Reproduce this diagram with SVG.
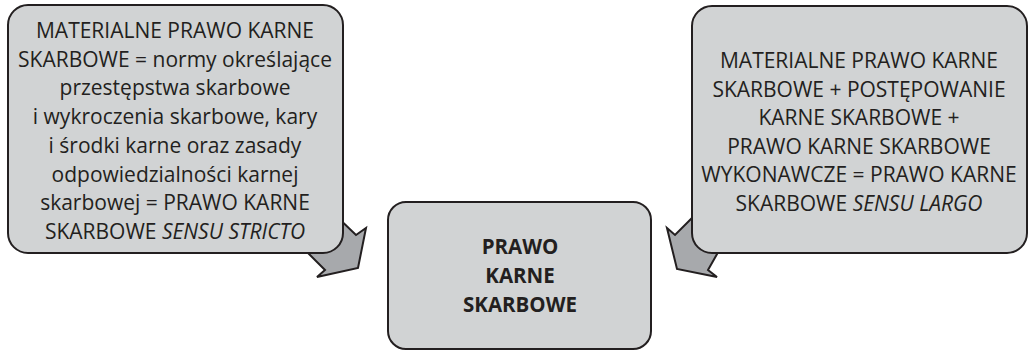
<svg xmlns="http://www.w3.org/2000/svg" width="1029" height="350" viewBox="0 0 1029 350">
<style>
.box{fill:#d1d3d4;stroke:#231f20;stroke-width:2}
.arr{fill:#a7a9ac;stroke:#231f20;stroke-width:2;stroke-linejoin:miter}
text{font-family:"Open Sans","Liberation Sans",sans-serif;font-size:21px;fill:#231f20;text-anchor:middle}
.b{font-weight:bold;font-size:20.5px}
.i{font-style:italic}
</style>
<rect width="1029" height="350" fill="#ffffff"/>
<g id="connectors">
<polygon class="arr" points="330,210 356,235 366,228 358,268 317,277 325,270 300,245"/>
<polygon class="arr" points="667,228 675,235 705,205 725,240 708,270 717,277 677,269"/>
</g>
<g id="left">
<rect class="box" x="8" y="5" width="335" height="248" rx="20"/>
<text x="175" y="38">MATERIALNE PRAWO KARNE</text>
<text x="175" y="66.7">SKARBOWE = normy określające</text>
<text x="175" y="95.4">przestępstwa skarbowe</text>
<text x="175" y="124">i wykroczenia skarbowe, kary</text>
<text x="175" y="152.8">i środki karne oraz zasady</text>
<text x="175" y="181.5">odpowiedzialności karnej</text>
<text x="175" y="210">skarbowej = PRAWO KARNE</text>
<text x="175" y="239">SKARBOWE <tspan class="i">SENSU STRICTO</tspan></text>
</g>
<g id="right">
<rect class="box" x="692" y="6" width="335" height="247" rx="20"/>
<text x="859" y="68.2">MATERIALNE PRAWO KARNE</text>
<text x="859" y="96.7">SKARBOWE + POSTĘPOWANIE</text>
<text x="859" y="125.2">KARNE SKARBOWE +</text>
<text x="859" y="153.7">PRAWO KARNE SKARBOWE</text>
<text x="859" y="182.2">WYKONAWCZE = PRAWO KARNE</text>
<text x="859" y="210.7">SKARBOWE <tspan class="i">SENSU LARGO</tspan></text>
</g>
<g id="center">
<rect class="box" x="388" y="202" width="263" height="147" rx="18"/>
<text class="b" x="520" y="254.3">PRAWO</text>
<text class="b" x="520" y="283.3">KARNE</text>
<text class="b" x="520" y="312.3">SKARBOWE</text>
</g>
</svg>
